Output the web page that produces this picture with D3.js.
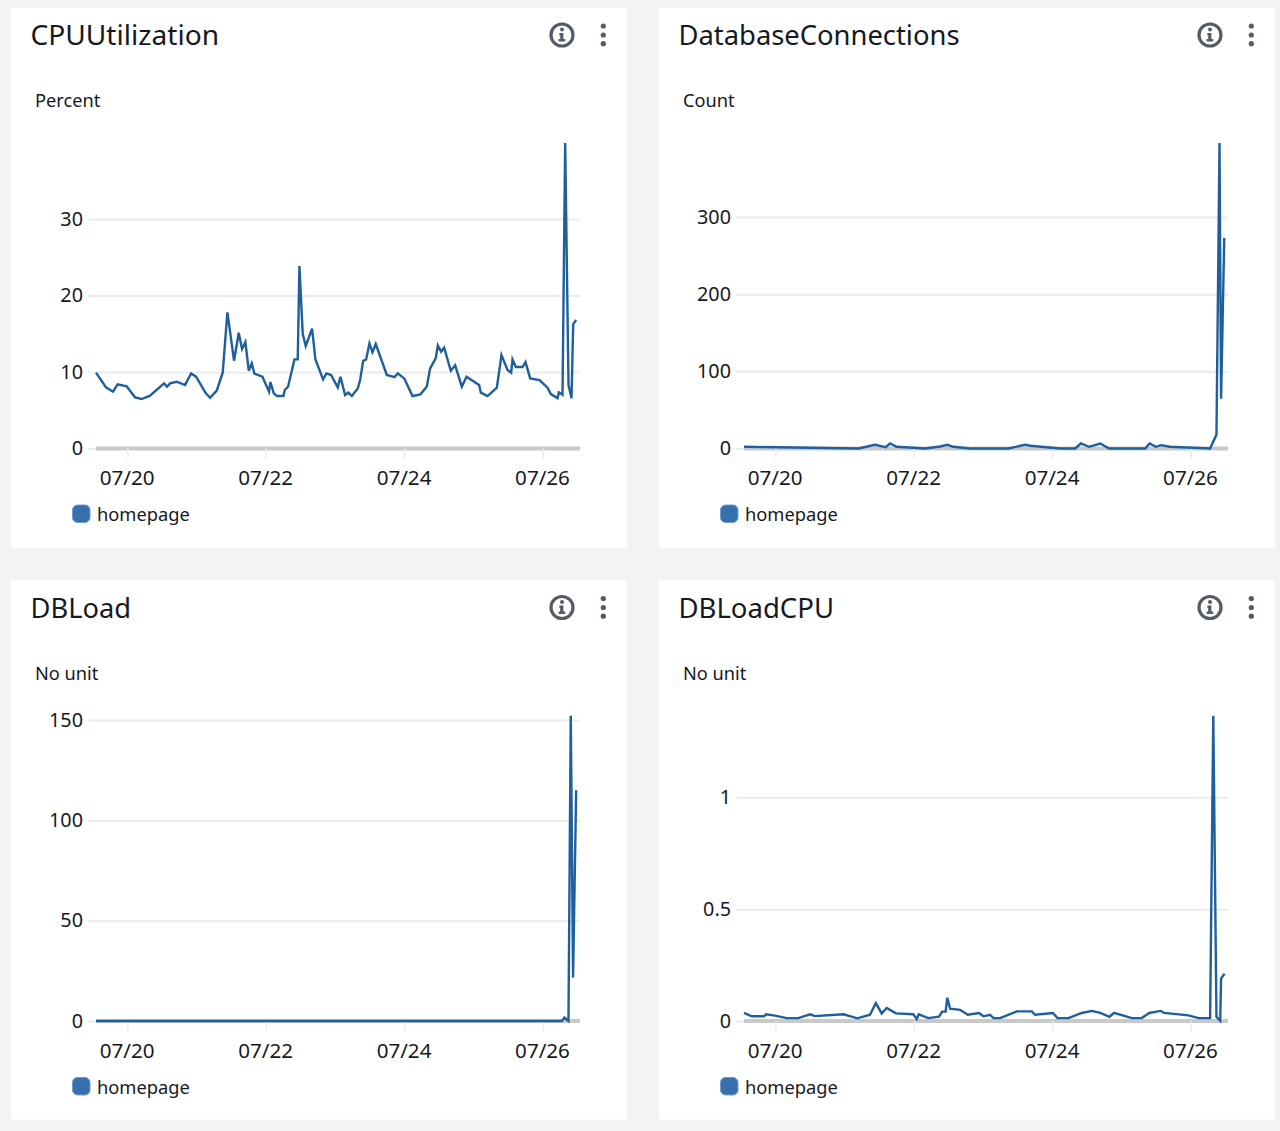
<!DOCTYPE html>
<html><head><meta charset="utf-8">
<script src="https://cdn.jsdelivr.net/npm/d3@7/dist/d3.min.js"></script>
<style>
html,body{margin:0;padding:0;background:#f2f3f3;}
svg{display:block;font-family:"Noto Sans","Open Sans",sans-serif;}
</style></head><body>
<svg id="c" width="1280" height="1131"></svg>
<script>
// ---- data: hours since 07/20 00:00 ----
const tickDays = ["07/20","07/22","07/24","07/26"];
const seriesName = "homepage";

const cpuHours = [-10.89,-7.42,-5.0,-3.38,-0.25,2.64,4.95,7.84,12.69,13.73,14.77,17.09,19.98,22.06,23.79,27.14,28.65,30.96,33.04,34.66,36.97,38.59,39.74,40.9,42.06,43.1,44.02,46.8,49.11,49.57,50.73,51.88,54.08,54.54,55.7,57.9,59.05,59.63,60.78,61.82,64.02,65.18,67.83,68.99,70.6,72.92,73.85,75.47,76.62,77.78,79.86,80.67,81.71,82.75,83.91,84.95,86.1,89.92,92.58,93.73,96.04,98.82,101.59,103.79,104.95,106.91,107.6,108.76,109.8,112.11,113.62,115.93,117.55,121.94,122.52,124.83,128.07,129.68,131.77,133.04,133.5,134.66,136.97,138.01,139.63,142.86,145.64,146.79,149.11,149.57,150.84,151.76,152.92,153.96,154.54,155.58];
const cpuValues = [9.91,7.99,7.43,8.39,8.12,6.69,6.47,6.9,8.52,8.08,8.52,8.73,8.3,9.82,9.39,7.25,6.64,7.56,9.91,17.8,11.48,15.14,13.0,13.92,10.17,11.13,9.78,9.39,7.43,8.69,7.21,6.86,6.86,7.65,8.08,11.65,11.65,23.85,14.97,13.4,15.66,11.65,9.04,9.82,9.61,7.99,9.39,6.99,7.3,6.86,7.86,8.95,11.44,11.65,13.74,12.57,13.66,9.61,9.34,9.82,9.13,6.86,7.08,8.12,10.48,11.83,13.48,12.66,13.18,10.17,10.87,8.08,9.39,8.3,7.3,6.86,7.95,12.22,10.26,9.91,11.65,10.65,10.65,11.3,9.17,8.95,7.95,7.12,6.6,7.34,7.03,39.94,8.3,6.56,16.27,16.8];

const connHours = [-10.89,28.76,34.54,38.24,39.74,42.05,47.8,51.9,57.1,59.6,61.7,67.5,80.8,86.6,88.3,98.7,103.9,105.9,108.7,112.6,115.7,128.2,129.7,131.9,133.7,136.8,150.7,152.9,153.96,154.5,155.6];
const connValues = [2.2,0,4.8,1.7,6.5,2.2,0.9,0,2.6,4.8,2.2,0,0,4.8,3.5,0,0,6.5,2.2,6.5,0,0,6.5,2.2,4.3,2.2,0,18,396,64.4,273];

const loadHours = [-10.89,150.6,151.5,152.9,153.7,154.5,155.57];
const loadValues = [0,0,1.7,0,152.2,21.7,115];

const loadCpuHours = [-10.9,-8.2,-3.96,-3.26,-0.14,3.9,7.95,12,13.7,23.6,28.4,32.8,34.8,36.85,38.6,41.8,47.8,49,49.7,53,56.7,57.8,59,59.6,60.55,64,66.7,70.6,72.1,74.4,75.6,77.9,83.7,88.9,90,96.2,97.8,101.6,106.2,109.7,112.6,115.8,117.4,123.6,127,129.6,133.6,134.8,143.2,146.7,150.7,151.8,152.9,154.2,154.5,155.7];
const loadCpuValues = [0.036,0.021,0.021,0.03,0.024,0.013,0.013,0.03,0.022,0.03,0.012,0.028,0.08,0.034,0.058,0.034,0.03,0.009,0.03,0.013,0.019,0.042,0.042,0.104,0.055,0.05,0.028,0.036,0.021,0.028,0.013,0.013,0.043,0.043,0.028,0.036,0.013,0.013,0.036,0.045,0.036,0.019,0.036,0.013,0.013,0.036,0.045,0.036,0.025,0.013,0.013,1.366,0.019,0.001,0.19,0.211];

const cpuTicks = [0,10,20,30];
const connTicks = [0,100,200,300];
const loadTicks = [0,50,100,150];
const loadCpuTicks = [0,0.5,1];

const panels = [
 {title:"CPUUtilization", titleWidth:188.5, unit:"Percent", hours:cpuHours, values:cpuValues, ticks:cpuTicks, top:39.94, dx:0, dy:0},
 {title:"DatabaseConnections", titleWidth:281, unit:"Count", hours:connHours, values:connValues, ticks:connTicks, top:396, dx:648, dy:0},
 {title:"DBLoad", titleWidth:100.5, unit:"No unit", hours:loadHours, values:loadValues, ticks:loadTicks, top:152.2, dx:0, dy:572.5},
 {title:"DBLoadCPU", titleWidth:155.5, unit:"No unit", hours:loadCpuHours, values:loadCpuValues, ticks:loadCpuTicks, top:1.366, dx:648, dy:572.5}
];

const svg = d3.select("#c");
const base = Date.UTC(2023,6,20);
const toDate = h => new Date(base + h*3600e3);
const x = d3.scaleUtc().domain([toDate(-10.89), toDate(156.9)]).range([96,580]);
const tickDates = tickDays.map((d,i)=>toDate(i*48));
const fmt = d3.utcFormat("%m/%d");
const defs = svg.append("defs");
const font = '"Noto Sans","Open Sans",sans-serif';

panels.forEach((p,i)=>{
  const g = svg.append("g").attr("transform",`translate(${p.dx},${p.dy})`);
  g.append("rect").attr("x",11).attr("y",p.dy?7.5:8).attr("width",616).attr("height",539.5).attr("fill","#fff");
  g.append("text").attr("x",30.5).attr("y",45).attr("font-size",28).attr("fill","#16191f")
    .attr("textLength",p.titleWidth).attr("lengthAdjust","spacingAndGlyphs").text(p.title);
  g.append("text").attr("x",35).attr("y",107).attr("font-size",18.2).attr("fill","#16191f").text(p.unit);

  // info icon
  g.append("circle").attr("cx",562).attr("cy",35).attr("r",11).attr("fill","none").attr("stroke","#545b64").attr("stroke-width",3.2);
  g.append("circle").attr("cx",562).attr("cy",29.5).attr("r",2).attr("fill","#545b64");
  g.append("path").attr("d","M559.4 33h4v6h1.8v2.4h-6.6v-2.4h1.6v-3.6h-0.8z").attr("fill","#545b64");
  // menu dots
  [26,35,43.7].forEach(cy=>g.append("circle").attr("cx",603.3).attr("cy",cy).attr("r",2.6).attr("fill","#545b64"));

  const y = d3.scaleLinear().domain([0,p.top]).range([448.5,143]);

  const ya = g.append("g").attr("transform","translate(580,0)")
    .call(d3.axisLeft(y).tickValues(p.ticks).tickSize(492).tickPadding(5).tickFormat(d=>String(d)));
  ya.select(".domain").remove();
  ya.selectAll("line").attr("stroke","#e9ebed").attr("stroke-width",2);
  ya.selectAll("text").attr("font-size",19.8).attr("fill","#16191f").attr("font-family",font);

  const xa = g.append("g").attr("transform","translate(0,448.5)")
    .call(d3.axisBottom(x).tickValues(tickDates).tickSize(10).tickPadding(12).tickFormat(fmt));
  xa.select(".domain").attr("stroke","#c9c9c9").attr("stroke-width",4).attr("d","M96,0H580");
  xa.selectAll(".tick line").attr("stroke","#e9ebed").attr("stroke-width",1.5);
  xa.selectAll("text").attr("font-size",20.6).attr("fill","#16191f").attr("font-family",font).attr("dx",-0.8);

  const id = "clip"+i;
  defs.append("clipPath").attr("id",id).append("rect").attr("x",90).attr("y",143).attr("width",494).attr("height",310);
  const pts = p.hours.map((h,k)=>[toDate(h),p.values[k]]);
  g.append("path").attr("clip-path",`url(#${id})`).datum(pts)
    .attr("fill","none").attr("stroke","#1f5f9c").attr("stroke-width",2.4).attr("stroke-linejoin","miter")
    .attr("d",d3.line().x(d=>x(d[0])).y(d=>y(d[1])));

  // legend
  g.append("rect").attr("x",72.5).attr("y",505).attr("width",17.5).attr("height",17.5).attr("rx",5)
    .attr("fill","#3570ad").attr("stroke","#6f9ccb").attr("stroke-width",1);
  g.append("text").attr("x",97).attr("y",521).attr("font-size",18.3).attr("fill","#16191f").text(seriesName);
});
</script>
</body></html>
